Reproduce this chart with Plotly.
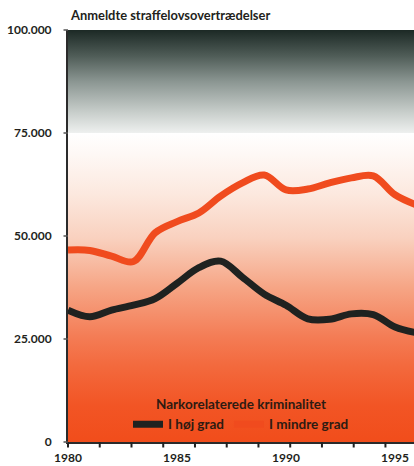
import plotly.graph_objects as go

# Reported offences per year, split by degree of drug relation
years = [1980, 1981, 1982, 1983, 1984, 1985, 1986, 1987, 1988,
         1989, 1990, 1991, 1992, 1993, 1994, 1995, 1996]
hoj_grad = [32000, 30400, 32000, 33200, 34800, 38500, 42300, 43900, 40000,
            35900, 33200, 29900, 29800, 31100, 30900, 27900, 26500]
mindre_grad = [46600, 46500, 45100, 43800, 50800, 53500, 55600, 59700, 62900,
               64800, 61200, 61400, 62900, 64100, 64600, 60000, 57500]

x_ticklabels = ["1980", "1985", "1990", "1995"]
x_tickvals = [1980, 1985, 1990, 1995]
y_tickvals = [0, 25000, 50000, 75000, 100000]
y_ticklabels = ["0", "25.000", "50.000", "75.000", "100.000"]

title_text = "Anmeldte straffelovsovertrædelser"
legend_title = "Narkorelaterede kriminalitet"

X0, X1 = 1980.0, 1995.87
FONT = "Lato"
TEXT = "#231f1c"
LEG = "#2e1b12"

# Tick marks along the time axis sit on their own spacing
tick_step = 1.456
tick_marks = [X0 + i * tick_step for i in range(11)]

fig = go.Figure()

# Background bands with vertical colour gradients
fig.add_trace(go.Scatter(
    x=[X0 - 1, X1 + 1, X1 + 1, X0 - 1, X0 - 1],
    y=[0, 0, 75000, 75000, 0],
    mode="none", fill="toself", showlegend=False, hoverinfo="skip",
    fillgradient=dict(type="vertical", colorscale=[
        [0.0, "#f14d1b"], [0.12, "#f25525"], [0.25, "#f36a3e"],
        [0.34, "#f47c55"], [0.5, "#f6a585"], [0.66, "#f9d1bf"],
        [0.8, "#fce8de"], [0.93, "#fef8f5"], [1.0, "#ffffff"]]),
))
fig.add_trace(go.Scatter(
    x=[X0 - 1, X1 + 1, X1 + 1, X0 - 1, X0 - 1],
    y=[75000, 75000, 100000, 100000, 75000],
    mode="none", fill="toself", showlegend=False, hoverinfo="skip",
    fillgradient=dict(type="vertical", colorscale=[
        [0.0, "#eef0ef"], [0.2, "#c8cecb"], [0.5, "#8b9692"],
        [0.75, "#4f5c57"], [1.0, "#1c2925"]]),
))

fig.add_trace(go.Scatter(
    x=years, y=hoj_grad, name="I høj grad", mode="lines",
    line=dict(color="#1f2220", width=7, shape="spline", smoothing=1.0),
))
fig.add_trace(go.Scatter(
    x=years, y=mindre_grad, name="I mindre grad", mode="lines",
    line=dict(color="#f04b1e", width=7, shape="spline", smoothing=1.0),
))

# Short tick strokes drawn as headless arrows hanging off the axes
x_tick_strokes = [
    dict(x=t, y=0, xref="x", yref="paper", text="", showarrow=True,
         arrowhead=0, arrowwidth=2, arrowcolor="#222222",
         ax=0, ay=7, standoff=0, startstandoff=0)
    for t in tick_marks
]
y_tick_strokes = [
    dict(x=0, y=v, xref="paper", yref="y", text="", showarrow=True,
         arrowhead=0, arrowwidth=1.5, arrowcolor="#555555",
         ax=-6, ay=0, standoff=0, startstandoff=0)
    for v in y_tickvals
]

fig.update_layout(
    width=414, height=466,
    margin=dict(l=68, r=0, t=30, b=24),
    paper_bgcolor="white", plot_bgcolor="white",
    font=dict(family=FONT, color=TEXT, size=12),
    showlegend=True,
    legend=dict(
        orientation="h", x=0.5, xanchor="center", y=0.123, yanchor="top",
        bgcolor="rgba(0,0,0,0)",
        title=dict(text="<b>" + legend_title + "</b>", side="top center",
                   font=dict(family=FONT, size=13.5, color=LEG)),
        font=dict(family=FONT, size=13.5, color=LEG, weight="bold"),
        itemwidth=30, tracegroupgap=0,
    ),
    xaxis=dict(
        range=[X0, X1], showgrid=False, zeroline=False, automargin=False,
        tickvals=x_tickvals, ticktext=x_ticklabels, ticks="",
        ticklabelstandoff=4,
        tickfont=dict(family=FONT, size=12, color=TEXT, weight="bold"),
        showline=True, linecolor="#2b2b2b", linewidth=2,
    ),
    yaxis=dict(
        range=[0, 100000], tickvals=y_tickvals, ticktext=y_ticklabels,
        automargin=False, ticks="", ticklabelstandoff=12,
        tickfont=dict(family=FONT, size=12, color=TEXT, weight="bold"),
        showgrid=True, gridcolor="#9c9c9c", gridwidth=1.5,
        zeroline=False, showline=True, linecolor="#2b2b2b", linewidth=2,
    ),
    annotations=[dict(
        text="<b>" + title_text + "</b>", xref="paper", yref="paper",
        x=0, y=1, xanchor="left", yanchor="bottom", yshift=5,
        showarrow=False, font=dict(family=FONT, size=12.9, color=TEXT),
    )] + x_tick_strokes + y_tick_strokes,
)

fig.write_html("out.html")
